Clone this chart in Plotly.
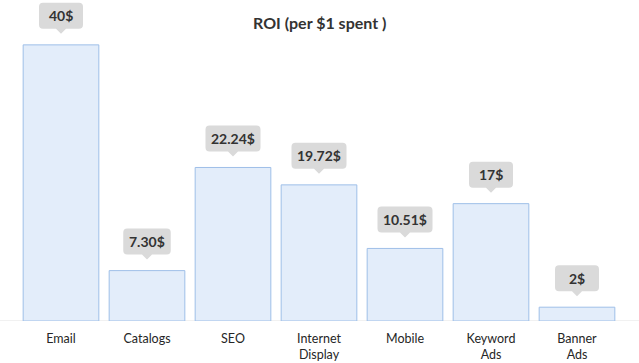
import plotly.graph_objects as go

categories = ["Email", "Catalogs", "SEO", "Internet<br>Display", "Mobile", "Keyword<br>Ads", "Banner<br>Ads"]
values = [40, 7.30, 22.24, 19.72, 10.51, 17, 2]
labels = ["40$", "7.30$", "22.24$", "19.72$", "10.51$", "17$", "2$"]

FONT = "Lato, 'Open Sans', sans-serif"
TXT = "#333333"

fig = go.Figure()
fig.add_trace(go.Bar(
    x=list(range(len(categories))), y=values,
    marker=dict(color="#e3edfa", line=dict(color="#9fbfe8", width=1)),
    hoverinfo="skip",
))

shapes = []
annotations = []


def rounded_box(w, y0, y1, r=4, tip=11, tw=5):
    hw = w / 2
    p = (f"M {-tw},{y0} L 0,{tip} L {tw},{y0} "
         f"L {hw - r},{y0} Q {hw},{y0} {hw},{y0 + r} "
         f"L {hw},{y1 - r} Q {hw},{y1} {hw - r},{y1} "
         f"L {-hw + r},{y1} Q {-hw},{y1} {-hw},{y1 - r} "
         f"L {-hw},{y0 + r} Q {-hw},{y0} {-hw + r},{y0} Z")
    return p


for i, (v, lab) in enumerate(zip(values, labels)):
    w = max(44, len(lab) * 7.5 + 10)
    shapes.append(dict(
        type="path", xref="x", yref="y", xsizemode="pixel", ysizemode="pixel",
        xanchor=i, yanchor=v, path=rounded_box(w, 16, 42),
        fillcolor="#dadada", line=dict(width=0), layer="above",
    ))
    annotations.append(dict(
        x=i, y=v, xref="x", yref="y", text=f"<b>{lab}</b>", showarrow=False,
        yshift=29, yanchor="middle", font=dict(family=FONT, size=14, color=TXT),
    ))

# baseline across full width
shapes.append(dict(type="line", xref="paper", yref="y", x0=-0.05, x1=1.05, y0=0, y1=0,
                   line=dict(color="#e2e2e2", width=1), layer="below"))

fig.update_layout(
    width=639, height=363,
    margin=dict(l=18, r=19, t=0, b=42, autoexpand=False),
    paper_bgcolor="white", plot_bgcolor="white",
    bargap=0.12,
    showlegend=False,
    shapes=shapes,
    annotations=annotations + [dict(
        x=0.5, y=1 - 26 / 363, xref="paper", yref="paper", xanchor="center", yanchor="middle",
        text="<b>ROI (per $1 spent )</b>", showarrow=False,
        font=dict(family=FONT, size=16, color=TXT),
    )],
    xaxis=dict(
        tickmode="array", tickvals=list(range(len(categories))), ticktext=categories,
        range=[-0.5, len(categories) - 0.5], automargin=False,
        showgrid=False, zeroline=False, showline=False,
        ticks="outside", ticklen=6, tickcolor="rgba(0,0,0,0)",
        tickfont=dict(family=FONT, size=12.5, color="#262626"),
    ),
    yaxis=dict(range=[0, 46.5], visible=False, showgrid=False, zeroline=False, automargin=False),
)

fig.write_html("out.html", config={"displayModeBar": False},
               post_script="document.body.style.margin='0';document.body.style.overflow='hidden';")
